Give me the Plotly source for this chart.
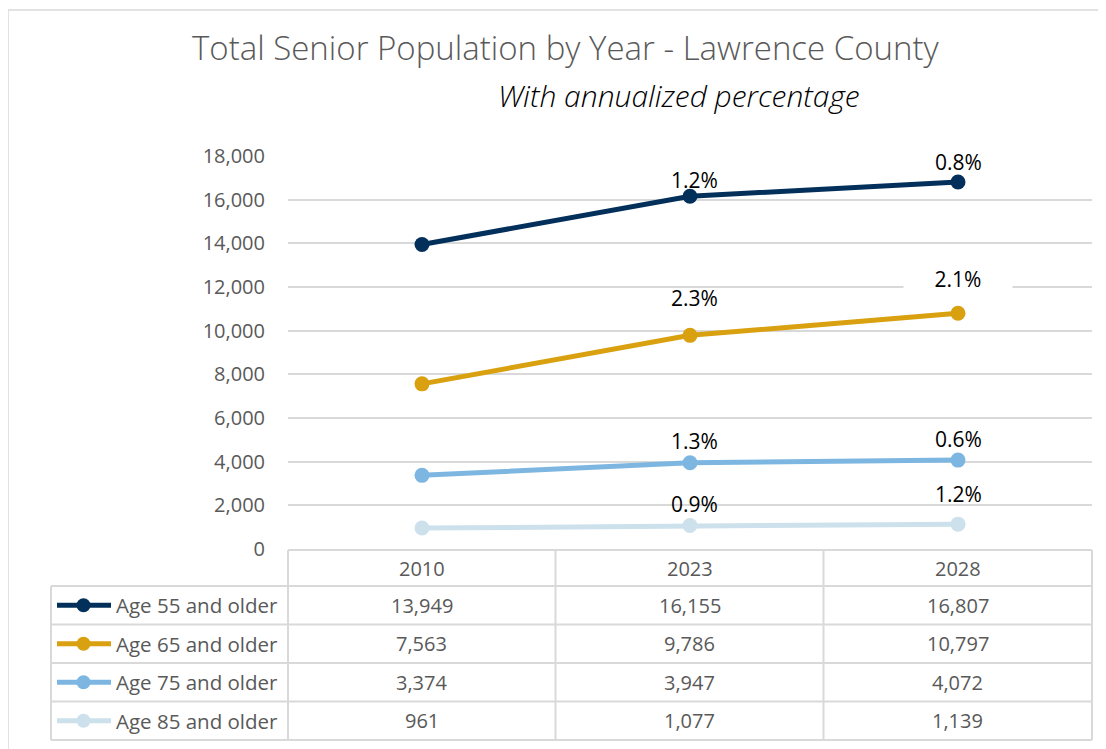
import plotly.graph_objects as go

# ---------------- data ----------------
years = ["2010", "2023", "2028"]
series_names = ["Age 55 and older", "Age 65 and older", "Age 75 and older", "Age 85 and older"]
age55 = [13949, 16155, 16807]
age65 = [7563, 9786, 10797]
age75 = [3374, 3947, 4072]
age85 = [961, 1077, 1139]
pct55 = [None, "1.2%", "0.8%"]
pct65 = [None, "2.3%", "2.1%"]
pct75 = [None, "1.3%", "0.6%"]
pct85 = [None, "0.9%", "1.2%"]
y_ticks = [0, 2000, 4000, 6000, 8000, 10000, 12000, 14000, 16000, 18000]

values = [age55, age65, age75, age85]
pcts = [pct55, pct65, pct75, pct85]

# ---------------- style ----------------
colors = ["#03305A", "#D9A010", "#7DB7E1", "#CCE1EB"]
label_shift = [[0, 16, 20], [0, 37, 34], [0, 22, 21], [0, 21, 30]]
label_fill = [[None, None, None], [None, None, "white"], [None, None, None], [None, None, None]]
OFF = 8                                  # page body margin
W, H = 1106 - OFF, 749 - OFF
L, R, T, B = 288, 1092, 156, 549         # plot area in page px
GRID = "#D9D9D9"
TXT = "#595959"
FONT = "Open Sans, Liberation Sans, sans-serif"


def px(x):
    return (x - L) / (R - L)


def py(y):
    return (B - y) / (B - T)


fig = go.Figure()
for name, vals, col in zip(series_names, values, colors):
    fig.add_trace(go.Scatter(
        x=list(range(len(years))), y=vals, name=name, mode="lines+markers",
        line=dict(color=col, width=5), marker=dict(color=col, size=15),
        showlegend=False, hoverinfo="skip"))

annotations = []
# percentage labels
for vals, pl, sh, fl in zip(values, pcts, label_shift, label_fill):
    for i, (v, p) in enumerate(zip(vals, pl)):
        if p is None:
            continue
        a = dict(x=i, y=v, xref="x", yref="y", text=p, showarrow=False,
                 yshift=sh[i], xshift=4 if i == 1 else 0,
                 font=dict(family=FONT, size=21, color="#000000"), borderpad=0)
        if fl[i]:
            a.update(bgcolor=fl[i], width=108)
        annotations.append(a)

# titles
annotations.append(dict(x=px(566), y=py(47), xref="paper", yref="paper",
                        text="Total Senior Population by Year - Lawrence County",
                        showarrow=False, xanchor="center", yanchor="middle",
                        font=dict(family=FONT, size=33, color=TXT, weight=300)))
annotations.append(dict(x=px(679), y=py(96), xref="paper", yref="paper",
                        text="<i>With annualized percentage</i>",
                        showarrow=False, xanchor="center", yanchor="middle",
                        font=dict(family=FONT, size=30, color="#000000", weight=300)))

shapes = []
# outer frame
shapes.append(dict(type="rect", xref="paper", yref="paper",
                   x0=px(8), x1=px(1120), y0=py(10), y1=py(770),
                   line=dict(color=GRID, width=1.5), layer="below"))

# data table
col_edges = [288, 555.5, 823.5, 1092]
row_edges = [586, 624.5, 663, 701.5, 740]
tbl_left = 51
line_style = dict(color=GRID, width=2)
shapes.append(dict(type="line", xref="paper", yref="paper", x0=px(288), x1=px(1092),
                   y0=py(550), y1=py(550), line=line_style))
for xe in col_edges:
    shapes.append(dict(type="line", xref="paper", yref="paper", x0=px(xe), x1=px(xe),
                       y0=py(550), y1=py(740), line=line_style))
shapes.append(dict(type="line", xref="paper", yref="paper", x0=px(tbl_left), x1=px(tbl_left),
                   y0=py(586), y1=py(740), line=line_style))
for ye in row_edges:
    shapes.append(dict(type="line", xref="paper", yref="paper", x0=px(tbl_left), x1=px(1092),
                       y0=py(ye), y1=py(ye), line=line_style))

for j, yr in enumerate(years):
    cx = (col_edges[j] + col_edges[j + 1]) / 2
    annotations.append(dict(x=px(cx), y=py(568), xref="paper", yref="paper", text=yr,
                            showarrow=False, xanchor="center", yanchor="middle",
                            font=dict(family=FONT, size=20, color=TXT)))

for i, (name, vals, col) in enumerate(zip(series_names, values, colors)):
    cy = (row_edges[i] + row_edges[i + 1]) / 2
    shapes.append(dict(type="line", xref="paper", yref="paper", x0=px(57), x1=px(111),
                       y0=py(cy), y1=py(cy), line=dict(color=col, width=5)))
    shapes.append(dict(type="circle", xref="paper", yref="paper", x0=px(76.5), x1=px(90.5),
                       y0=py(cy + 7), y1=py(cy - 7), fillcolor=col, line=dict(width=0)))
    annotations.append(dict(x=px(114), y=py(cy), xref="paper", yref="paper", text=name,
                            showarrow=False, xanchor="left", yanchor="middle",
                            font=dict(family=FONT, size=20.5, color=TXT)))
    for j, v in enumerate(vals):
        cx = (col_edges[j] + col_edges[j + 1]) / 2
        annotations.append(dict(x=px(cx), y=py(cy), xref="paper", yref="paper",
                                text=f"{v:,}", showarrow=False, xanchor="center",
                                yanchor="middle",
                                font=dict(family=FONT, size=20, color=TXT)))

fig.update_layout(
    width=W, height=H,
    margin=dict(l=L - OFF, r=W - (R - OFF), t=T - OFF, b=H - (B - OFF)),
    paper_bgcolor="white", plot_bgcolor="white",
    xaxis=dict(range=[-0.5, len(years) - 0.5], showgrid=False, zeroline=False,
               showticklabels=False, showline=False, fixedrange=True),
    yaxis=dict(range=[0, 18000], tickvals=y_ticks,
               ticktext=[f"{t:,}" for t in y_ticks],
               showgrid=True, gridcolor=GRID, gridwidth=1.5, zeroline=False,
               showline=False, ticks="", ticklabelstandoff=22,
               tickfont=dict(family=FONT, size=20, color=TXT)),
    annotations=annotations, shapes=shapes,
)

fig.write_html("out.html")
